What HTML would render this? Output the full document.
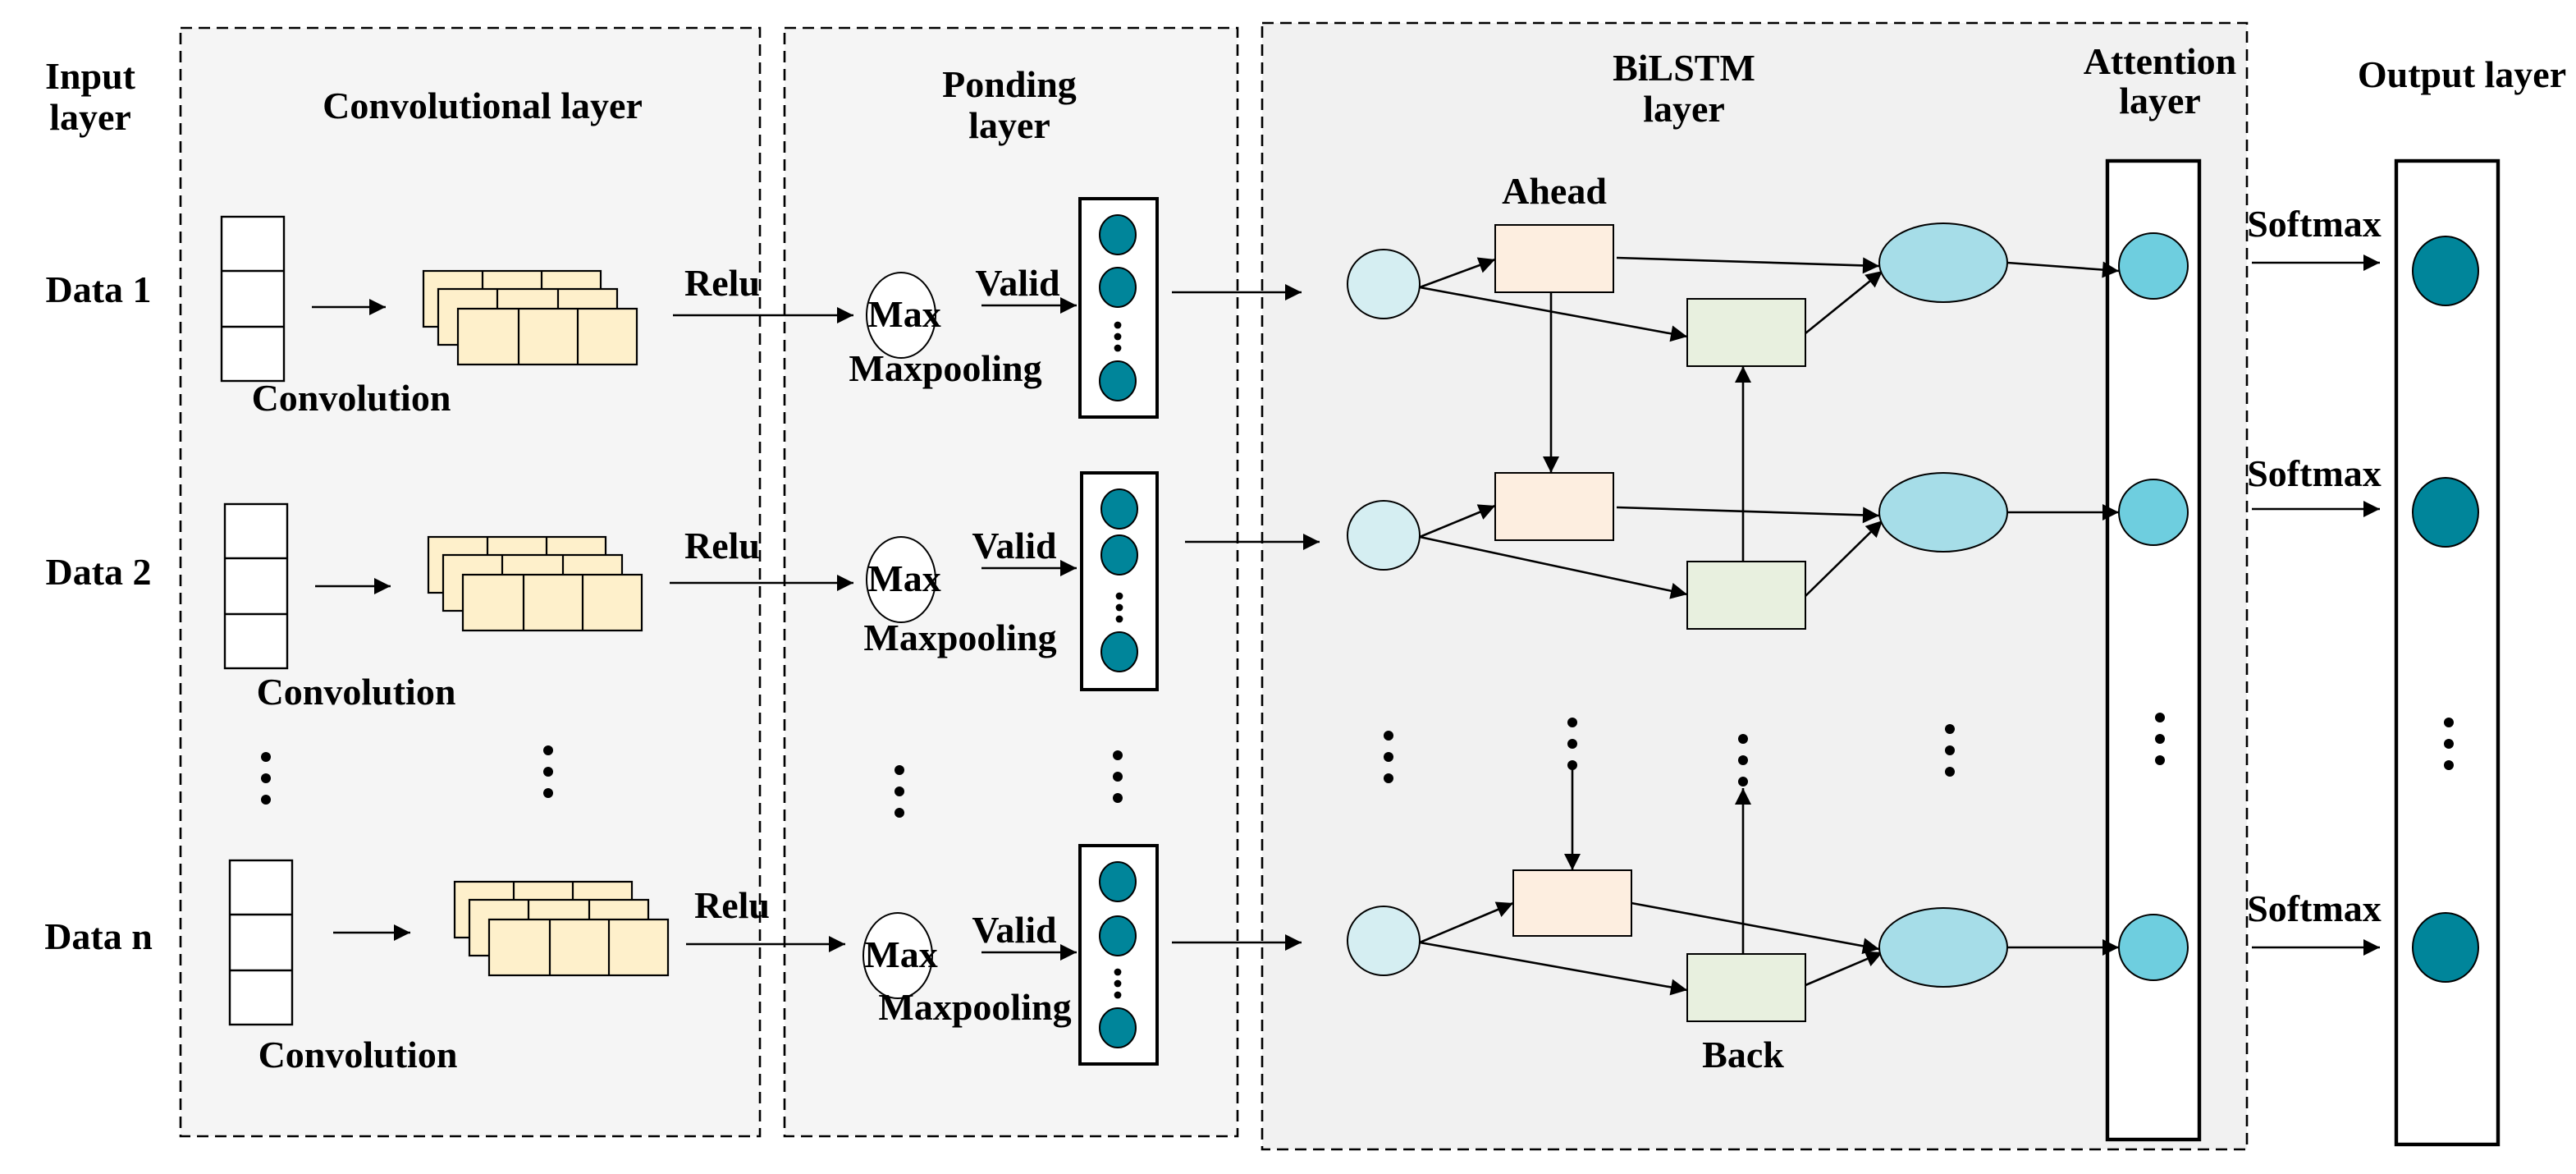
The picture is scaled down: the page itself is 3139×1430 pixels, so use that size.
<!DOCTYPE html>
<html><head><meta charset="utf-8"><style>html,body{margin:0;padding:0;background:#fff}svg{display:block}text{font-family:"Liberation Serif",serif;font-weight:bold;font-size:23px;fill:#000;text-anchor:middle}</style></head>
<body>
<svg width="3139" height="1430" viewBox="0 0 1569.5 715" xmlns="http://www.w3.org/2000/svg">
<defs><marker id="b" viewBox="0 0 10 10" refX="10" refY="5" markerWidth="12" markerHeight="10" markerUnits="userSpaceOnUse" orient="auto"><path d="M0,0L10,5L0,10z" fill="#000"/></marker>
<g id="d"><circle cx="0" cy="0" r="3"/><circle cx="0" cy="13" r="3"/><circle cx="0" cy="26" r="3"/></g>
<g id="fm"><rect x="258" y="165" width="108" height="34"/><line x1="294" y1="165" x2="294" y2="199"/><line x1="330" y1="165" x2="330" y2="199"/>
<rect x="267" y="176" width="109" height="34"/><line x1="303" y1="176" x2="303" y2="210"/><line x1="340" y1="176" x2="340" y2="210"/>
<rect x="279" y="188" width="109" height="34"/><line x1="316" y1="188" x2="316" y2="222"/><line x1="352" y1="188" x2="352" y2="222"/></g>
</defs>
<g stroke="#000" stroke-width="1.3" stroke-dasharray="7,4">
<rect x="110" y="17" width="353" height="675" fill="#f5f5f5"/>
<rect x="478" y="17" width="276" height="675" fill="#f5f5f5"/>
<rect x="769" y="14" width="600" height="686" fill="#f1f1f1"/>
</g>
<text x="55" y="54">Input</text><text x="55" y="79">layer</text>
<text x="294" y="72">Convolutional layer</text>
<text x="615" y="59">Ponding</text><text x="615" y="84">layer</text>
<text x="1026" y="49">BiLSTM</text><text x="1026" y="74">layer</text>
<text x="1316" y="45">Attention</text><text x="1316" y="69">layer</text>
<text x="1500" y="53">Output layer</text>
<text x="60" y="184">Data 1</text><text x="60" y="356">Data 2</text><text x="60" y="578">Data n</text>
<g fill="#fff" stroke="#000" stroke-width="1.2">
<rect x="135" y="132" width="38" height="100"/><line x1="135" y1="165" x2="173" y2="165"/><line x1="135" y1="199" x2="173" y2="199"/>
<rect x="137" y="307" width="38" height="100"/><line x1="137" y1="340" x2="175" y2="340"/><line x1="137" y1="374" x2="175" y2="374"/>
<rect x="140" y="524" width="38" height="100"/><line x1="140" y1="557" x2="178" y2="557"/><line x1="140" y1="591" x2="178" y2="591"/>
</g>
<text x="214" y="250">Convolution</text><text x="217" y="429">Convolution</text><text x="218" y="650">Convolution</text>
<g stroke="#000" stroke-width="1.2" fill="none" marker-end="url(#b)">
<line x1="190" y1="187" x2="235" y2="187"/><line x1="192" y1="357" x2="238" y2="357"/><line x1="203" y1="568" x2="250" y2="568"/>
<line x1="410" y1="192" x2="520" y2="192"/><line x1="408" y1="355" x2="520" y2="355"/><line x1="418" y1="575" x2="515" y2="575"/>
<line x1="598" y1="186" x2="656" y2="186"/><line x1="598" y1="346" x2="656" y2="346"/><line x1="598" y1="580" x2="656" y2="580"/>
<line x1="714" y1="178" x2="793" y2="178"/><line x1="722" y1="330" x2="804" y2="330"/><line x1="714" y1="574" x2="793" y2="574"/>
<line x1="1372" y1="160" x2="1450" y2="160"/><line x1="1372" y1="310" x2="1450" y2="310"/><line x1="1372" y1="577" x2="1450" y2="577"/>
</g>
<g fill="#fef0cb" stroke="#000" stroke-width="1.1">
<use href="#fm"/><use href="#fm" transform="translate(3,162)"/><use href="#fm" transform="translate(19,372)"/>
</g>
<text x="440" y="180">Relu</text><text x="440" y="340">Relu</text><text x="446" y="559">Relu</text>
<text x="620" y="180">Valid</text><text x="618" y="340">Valid</text><text x="618" y="574">Valid</text>
<g fill="#fff" stroke="#000" stroke-width="1"><ellipse cx="549" cy="192" rx="21" ry="26"/><ellipse cx="549" cy="353" rx="21" ry="26"/><ellipse cx="547" cy="582" rx="21" ry="26"/></g>
<text x="551" y="199">Max</text><text x="551" y="360">Max</text><text x="549" y="589">Max</text>
<text x="576" y="232">Maxpooling</text><text x="585" y="396">Maxpooling</text><text x="594" y="621">Maxpooling</text>
<g fill="#fff" stroke="#000" stroke-width="2">
<rect x="658" y="121" width="47" height="133"/><rect x="659" y="288" width="46" height="132"/><rect x="658" y="515" width="47" height="133"/>
<rect x="1284" y="98" width="56" height="596" stroke-width="2.2"/><rect x="1460" y="98" width="62" height="599" stroke-width="2.2"/>
</g>
<g fill="#00859a" stroke="#000" stroke-width="1">
<ellipse cx="681" cy="143" rx="11" ry="12"/><ellipse cx="681" cy="175" rx="11" ry="12"/><ellipse cx="681" cy="232" rx="11" ry="12"/>
<ellipse cx="682" cy="310" rx="11" ry="12"/><ellipse cx="682" cy="338" rx="11" ry="12"/><ellipse cx="682" cy="397" rx="11" ry="12"/>
<ellipse cx="681" cy="537" rx="11" ry="12"/><ellipse cx="681" cy="570" rx="11" ry="12"/><ellipse cx="681" cy="626" rx="11" ry="12"/>
<ellipse cx="1490" cy="165" rx="20" ry="21"/><ellipse cx="1490" cy="312" rx="20" ry="21"/><ellipse cx="1490" cy="577" rx="20" ry="21"/>
</g>
<g fill="#000">
<circle cx="681" cy="198" r="2.2"/><circle cx="681" cy="205" r="2.2"/><circle cx="681" cy="212" r="2.2"/>
<circle cx="682" cy="363" r="2.2"/><circle cx="682" cy="370" r="2.2"/><circle cx="682" cy="377" r="2.2"/>
<circle cx="681" cy="592" r="2.2"/><circle cx="681" cy="599" r="2.2"/><circle cx="681" cy="606" r="2.2"/>
<use href="#d" x="162" y="461"/><use href="#d" x="334" y="457"/><use href="#d" x="548" y="469" /><use href="#d" x="681" y="460"/>
<use href="#d" x="846" y="448"/><use href="#d" x="958" y="440"/><use href="#d" x="1062" y="450"/><use href="#d" x="1188" y="444"/>
<use href="#d" x="1316" y="437"/><use href="#d" x="1492" y="440"/>
</g>
<g stroke="#000" stroke-width="1.3" fill="none" marker-end="url(#b)">
<line x1="865" y1="175" x2="911" y2="158"/><line x1="865" y1="175" x2="1028" y2="205"/>
<line x1="985" y1="157" x2="1145" y2="162"/><line x1="1100" y1="203" x2="1147" y2="165"/>
<line x1="945" y1="178" x2="945" y2="288"/><line x1="1062" y1="342" x2="1062" y2="223"/>
<line x1="865" y1="327" x2="911" y2="308"/><line x1="865" y1="327" x2="1028" y2="362"/>
<line x1="985" y1="309" x2="1145" y2="314"/><line x1="1100" y1="363" x2="1147" y2="317"/>
<line x1="865" y1="574" x2="922" y2="550"/><line x1="865" y1="574" x2="1028" y2="603"/>
<line x1="994" y1="550" x2="1145" y2="578"/><line x1="1100" y1="600" x2="1147" y2="580"/>
<line x1="958" y1="468" x2="958" y2="530"/><line x1="1062" y1="581" x2="1062" y2="480"/>
<line x1="1223" y1="160" x2="1291" y2="165"/><line x1="1223" y1="312" x2="1291" y2="312"/><line x1="1223" y1="577" x2="1291" y2="577"/>
</g>
<g stroke="#000" stroke-width="1">
<g fill="#d5eef2"><ellipse cx="843" cy="173" rx="22" ry="21"/><ellipse cx="843" cy="326" rx="22" ry="21"/><ellipse cx="843" cy="573" rx="22" ry="21"/></g>
<g fill="#fdeee0"><rect x="911" y="137" width="72" height="41"/><rect x="911" y="288" width="72" height="41"/><rect x="922" y="530" width="72" height="40"/></g>
<g fill="#e8f0df"><rect x="1028" y="182" width="72" height="41"/><rect x="1028" y="342" width="72" height="41"/><rect x="1028" y="581" width="72" height="41"/></g>
<g fill="#a6dde8"><ellipse cx="1184" cy="160" rx="39" ry="24"/><ellipse cx="1184" cy="312" rx="39" ry="24"/><ellipse cx="1184" cy="577" rx="39" ry="24"/></g>
<g fill="#6ecedf"><ellipse cx="1312" cy="162" rx="21" ry="20"/><ellipse cx="1312" cy="312" rx="21" ry="20"/><ellipse cx="1312" cy="577" rx="21" ry="20"/></g>
</g>
<text x="947" y="124">Ahead</text><text x="1062" y="650">Back</text>
<text x="1410" y="144">Softmax</text><text x="1410" y="296">Softmax</text><text x="1410" y="561">Softmax</text>
</svg>
</body></html>
